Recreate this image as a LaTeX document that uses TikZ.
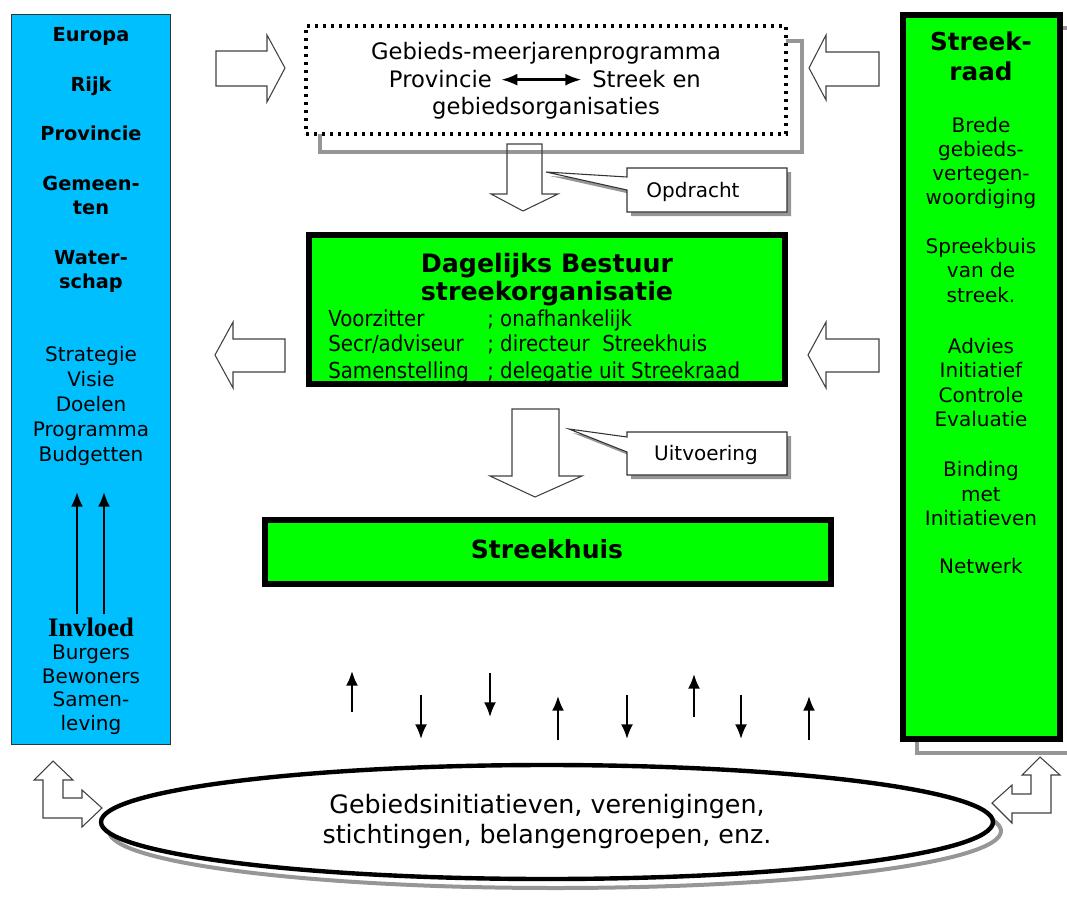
\documentclass[tikz,border=0pt]{standalone}
\usepackage{fontspec}
\setmainfont{DejaVu Sans}
\newfontfamily\serifb{Liberation Serif}
\newfontfamily\narrow[FakeStretch=0.9]{DejaVu Sans}
\usetikzlibrary{arrows.meta,shapes.geometric}
\definecolor{skyb}{RGB}{0,191,255}
\definecolor{lgreen}{RGB}{0,255,0}
\definecolor{shad}{RGB}{150,150,150}
\newcommand\fs[1]{\fontsize{#1}{#1}\selectfont}
\begin{document}
\begin{tikzpicture}[x=0.75pt,y=-0.75pt,
  lbl/.style={anchor=base,inner sep=0pt},
  lblw/.style={anchor=base west,inner sep=0pt,font=\narrow\fs{16.5}},
  blk/.style={draw=black!75,line width=0.8pt,line join=miter},
  gbox/.style={draw=black,line width=4.5pt,fill=lgreen,inner sep=0pt},
  sarrow/.style={line width=1.5pt,-{Latex[length=11pt,width=9pt]}},
  shadowline/.style={draw=shad,line width=3pt},
  callout/.style={draw=black!80,line width=0.8pt,fill=white}]
\useasboundingbox (0,0) rectangle (1067,907);

% ---------- left blue column
\node[draw=black!80,line width=1.1pt,fill=skyb,minimum width=159*0.75pt,
      minimum height=730*0.75pt,inner sep=0pt] (left) at (91,379.5) {};
\foreach \t/\y in {Europa/41,Rijk/91,Provincie/140,Gemeen-/190,ten/214,Water-/264,schap/288}
  \node[lbl,font=\fs{14.5}\bfseries] at (91,\y) {\t};
\foreach \t/\y in {Strategie/361,Visie/386,Doelen/411,Programma/436,Budgetten/461}
  \node[lbl,font=\fs{15}] at (91,\y) {\t};
\node[lbl,font=\serifb\fs{20}\bfseries] (invloed) at (91,636) {Invloed};
\foreach \t/\y in {Burgers/659,Bewoners/683,Samen-/706,leving/730}
  \node[lbl,font=\fs{15}] at (91,\y) {\t};
\coordinate (ua1) at (77,614); \coordinate (ub1) at (77,492);
\coordinate (ua2) at (104,614); \coordinate (ub2) at (104,492);
\draw[sarrow] (ua1) -- (ub1);
\draw[sarrow] (ua2) -- (ub2);

% ---------- right green column
\draw[shadowline] (917,738) -- (917,753) -- (1067,753);
\draw[shadowline] (1060,28) -- (1067,28);
\node[gbox,minimum width=157*0.75pt,minimum height=724*0.75pt] (raad) at (981.5,377) {};
\foreach \t/\y in {Streek-/50,raad/80}
  \node[lbl,font=\fs{18.5}\bfseries] at (981,\y) {\t};
\foreach \t/\y in {Brede/132,gebieds-/156,vertegen-/180,woordiging/204,
                   Spreekbuis/253,van de/277,streek./302,
                   Advies/353,Initiatief/377,Controle/402,Evaluatie/426,
                   Binding/476,met/501,Initiatieven/525,Netwerk/573}
  \node[lbl,font=\fs{15}] at (981,\y) {\t};

% ---------- top dotted programme box
\draw[shadowline] (320,41) rectangle (802,152);
\node[draw=black,line width=2.4pt,dash pattern=on 2.4pt off 3.6pt,fill=white,
      minimum width=480*0.75pt,minimum height=108*0.75pt,inner sep=0pt] (prog) at (546,80) {};
\node[lbl,font=\fs{17}] at (546,59) {Gebieds-meerjarenprogramma};
\node[anchor=base east,inner sep=0pt,font=\fs{17}] (prov) at (492,87) {Provincie};
\node[anchor=base west,inner sep=0pt,font=\fs{17}] (streek) at (592,87) {Streek en};
\draw[line width=1.8pt,{Latex[length=12pt,width=9pt]}-{Latex[length=12pt,width=9pt]}]
  ([xshift=7pt,yshift=5.5pt]prov.base east) -- ([xshift=-8pt,yshift=5.5pt]streek.base west);
\node[lbl,font=\fs{17}] at (546,114) {gebiedsorganisaties};

% ---------- block arrows
\draw[blk] (216,51) -- (267,51) -- (267,35) -- (285,68) -- (267,102) -- (267,86) -- (216,86) -- cycle;
\draw[blk] (879,52) -- (826,52) -- (826,35) -- (809,68) -- (826,100) -- (826,86) -- (879,86) -- cycle;
\draw[blk] (285,339) -- (233,339) -- (233,322) -- (215,355) -- (233,388) -- (233,372) -- (285,372) -- cycle;
\draw[blk] (879,339) -- (826,339) -- (826,322) -- (808,355) -- (826,388) -- (826,372) -- (879,372) -- cycle;
\draw[blk] (507,144) -- (542,144) -- (542,194) -- (558,194) -- (523,211) -- (491,194) -- (507,194) -- cycle;
\draw[blk] (512,409) -- (559,409) -- (559,476) -- (582,476) -- (535,497) -- (490,476) -- (512,476) -- cycle;

% ---------- callouts
\fill[shad,shift={(4,4)}] (627,168) -- (787,168) -- (787,212) -- (627,212) -- (627,190) -- (546,172) -- (627,177) -- cycle;
\draw[callout] (627,168) -- (787,168) -- (787,212) -- (627,212) -- (627,190) -- (546,172) -- (627,177) -- cycle;
\node[lbl,font=\fs{15}] (opd) at (693,197) {Opdracht};
\fill[shad,shift={(4,4)}] (627,432) -- (787,432) -- (787,475) -- (627,475) -- (627,452) -- (569,429) -- (627,437) -- cycle;
\draw[callout] (627,432) -- (787,432) -- (787,475) -- (627,475) -- (627,452) -- (569,429) -- (627,437) -- cycle;
\node[lbl,font=\fs{15}] (uitv) at (706,460) {Uitvoering};

% ---------- Dagelijks Bestuur
\fill[lgreen] (309,235) rectangle (785,384);
\node[lbl,font=\fs{19}\bfseries] at (547,272) {Dagelijks Bestuur};
\node[lbl,font=\fs{19}\bfseries] at (547,300) {streekorganisatie};
\node[lblw] at (328,326) {Voorzitter};
\node[lblw] at (487,326) {; onafhankelijk};
\node[lblw] at (328,351) {Secr/adviseur};
\node[lblw] at (487,351) {; directeur\ \ Streekhuis};
\node[lblw] at (328,378.5) {Samenstelling};
\node[lblw] at (487,378.5) {; delegatie uit Streekraad};
\node[draw=black,line width=4.5pt,minimum width=476*0.75pt,minimum height=149*0.75pt,
      inner sep=0pt] (db) at (547,309.5) {};

% ---------- Streekhuis
\node[gbox,minimum width=566*0.75pt,minimum height=64*0.75pt] (huis) at (548,552) {};
\node[lbl,font=\fs{18.8}\bfseries] at (547,558) {Streekhuis};

% ---------- small arrows
\draw[sarrow] (352,712) -- (352,671);
\draw[sarrow] (421,695) -- (421,739);
\draw[sarrow] (490,673) -- (490,717);
\draw[sarrow] (558,740) -- (558,696);
\draw[sarrow] (627,695) -- (627,739);
\draw[sarrow] (694,717) -- (694,674);
\draw[sarrow] (741,695) -- (741,739);
\draw[sarrow] (809,740) -- (809,696);

% ---------- ellipse
\node[ellipse,draw=shad,line width=3pt,minimum width=892*0.75pt,minimum height=114*0.75pt,
      inner sep=0pt] at (555,831) {};
\node[ellipse,draw=black,line width=3.3pt,fill=white,minimum width=892*0.75pt,
      minimum height=114*0.75pt,inner sep=0pt] (ell) at (547,822) {};
\node[lbl,font=\fs{19}] at (547,813) {Gebiedsinitiatieven, verenigingen,};
\node[lbl,font=\fs{19}] at (547,843) {stichtingen, belangengroepen, enz.};

% ---------- bent double arrows
\draw[blk] (53,761) -- (73,780) -- (63,780) -- (63,798) -- (82,798) -- (82,790) -- (102,808)
  -- (82,827) -- (82,818) -- (43,818) -- (43,780) -- (34,780) -- cycle;
\draw[blk] (1040,757) -- (1060,775) -- (1051,775) -- (1051,813) -- (1012,813) -- (1012,823)
  -- (992,803) -- (1012,785) -- (1012,794) -- (1031,794) -- (1031,775) -- (1022,775) -- cycle;
\end{tikzpicture}
\end{document}
